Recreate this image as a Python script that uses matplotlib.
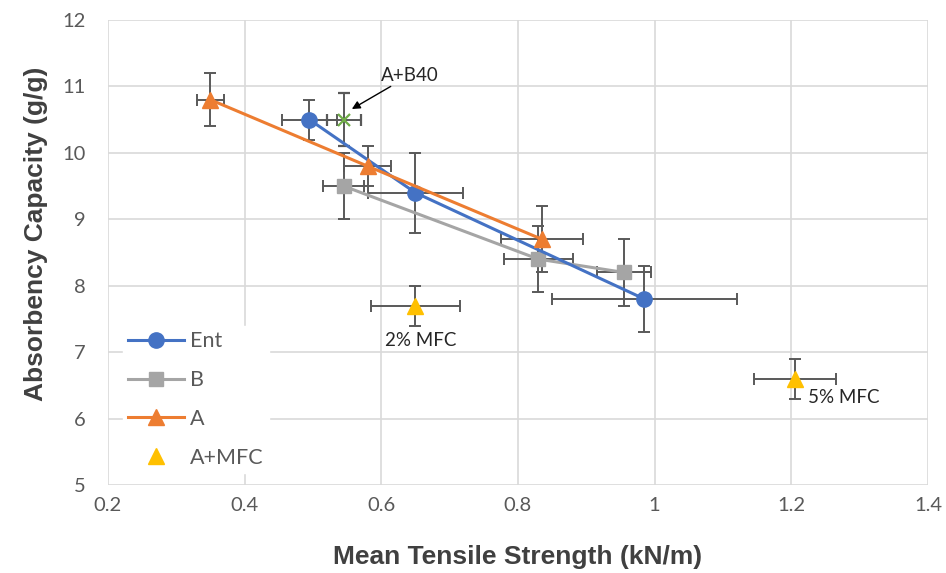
import matplotlib.pyplot as plt

# Ent series
ent_x = [0.495, 0.65, 0.985]
ent_y = [10.5, 9.4, 7.8]
ent_xerr = [0.04, 0.07, 0.135]
ent_yerr = [0.3, 0.6, 0.5]

# B series
b_x = [0.545, 0.83, 0.955]
b_y = [9.5, 8.4, 8.2]
b_xerr = [0.03, 0.05, 0.04]
b_yerr = [0.5, 0.5, 0.5]

# A series
a_x = [0.35, 0.58, 0.835]
a_y = [10.8, 9.8, 8.7]
a_xerr = [0.02, 0.035, 0.06]
a_yerr = [0.4, 0.3, 0.5]

# A+MFC (2% and 5%)
mfc_x = [0.65, 1.205]
mfc_y = [7.7, 6.6]
mfc_xerr = [0.065, 0.06]
mfc_yerr = [0.3, 0.3]
mfc_labels = ['2% MFC', '5% MFC']

# A+B40 single point
ab40_x = [0.545]
ab40_y = [10.5]
ab40_xerr = [0.025]
ab40_yerr = [0.4]

xticks = [0.2, 0.4, 0.6, 0.8, 1.0, 1.2, 1.4]
xticklabels = ['0.2', '0.4', '0.6', '0.8', '1', '1.2', '1.4']
yticks = [5, 6, 7, 8, 9, 10, 11, 12]

plt.rcParams['font.family'] = ['Lato', 'DejaVu Sans']

fig = plt.figure(figsize=(9.46, 5.73), dpi=100)
ax = fig.add_axes([0.114, 0.1536, 0.867, 0.8115])

err_kw = dict(ecolor='#595959', elinewidth=1.4, capsize=4.5, capthick=1.4, zorder=3)

ax.errorbar(mfc_x, mfc_y, xerr=mfc_xerr, yerr=mfc_yerr, fmt='^', color='#FFC000',
            markersize=11, label='A+MFC', **err_kw)
ax.errorbar(ab40_x, ab40_y, xerr=ab40_xerr, yerr=ab40_yerr, fmt='x', color='#70AD47',
            markersize=9, markeredgewidth=1.6, **err_kw)
ax.errorbar(b_x, b_y, xerr=b_xerr, yerr=b_yerr, fmt='-s', color='#A5A5A5', lw=2.2,
            markersize=10.5, label='B', **err_kw)
ax.errorbar(ent_x, ent_y, xerr=ent_xerr, yerr=ent_yerr, fmt='-o', color='#4472C4', lw=2.2,
            markersize=11, label='Ent', **err_kw)
ax.errorbar(a_x, a_y, xerr=a_xerr, yerr=a_yerr, fmt='-^', color='#ED7D31', lw=2.2,
            markersize=11, label='A', **err_kw)

ax.set_xlim(0.2, 1.4)
ax.set_ylim(5, 12)
ax.set_xticks(xticks)
ax.set_xticklabels(xticklabels)
ax.set_yticks(yticks)
ax.grid(True, color='#D9D9D9', lw=1.2)
ax.set_axisbelow(True)
for s in ax.spines.values():
    s.set_visible(False)
ax.tick_params(length=0, labelsize=14.5, colors='#595959')
ax.tick_params(axis='y', pad=16)
ax.tick_params(axis='x', pad=9)

lab_font = dict(family=['Liberation Sans', 'DejaVu Sans'], fontsize=19, fontweight='bold', color='#404040')
ax.set_xlabel('Mean Tensile Strength (kN/m)', labelpad=22, **lab_font)
ax.set_ylabel('Absorbency Capacity (g/g)', labelpad=10.5, y=0.54, **lab_font)

# annotations
ax.annotate('A+B40', xy=(0.557, 10.66), xytext=(0.600, 11.17), fontsize=13.5, va='center',
            color='#262626',
            arrowprops=dict(arrowstyle='-|>', color='black', lw=1, mutation_scale=12,
                            shrinkA=0, shrinkB=0))
ax.text(0.606, 7.18, mfc_labels[0], fontsize=13.5, va='center', color='#262626')
ax.text(1.225, 6.32, mfc_labels[1], fontsize=13.5, va='center', color='#262626')

handles, labels = ax.get_legend_handles_labels()
order = [labels.index(l) for l in ['Ent', 'B', 'A', 'A+MFC']]
leg = ax.legend([handles[i][0] for i in order], [labels[i] for i in order],
                loc='lower left', bbox_to_anchor=(0.018, 0.026), borderaxespad=0,
                frameon=True, fontsize=15.5, labelspacing=0.87, handlelength=2.6,
                handletextpad=0.3, borderpad=0.25, fancybox=False)
leg.get_frame().set_edgecolor('white')
leg.get_frame().set_facecolor('white')
leg.get_frame().set_alpha(1)
for t in leg.get_texts():
    t.set_color('#595959')

fig.savefig('out.png', dpi=100)
